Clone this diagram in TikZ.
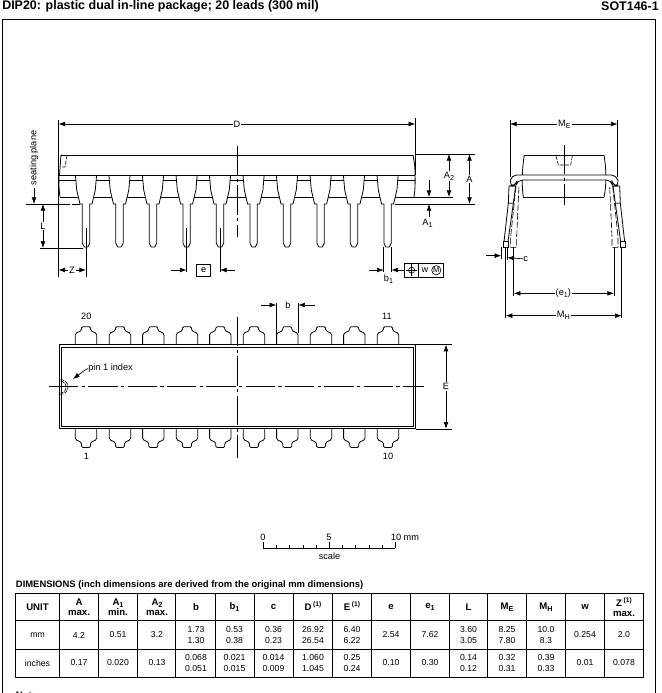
\documentclass[tikz,border=0pt]{standalone}
\usepackage{fontspec}
\setmainfont{Liberation Sans}
\usetikzlibrary{arrows.meta}
\def\sbs#1{\raisebox{-.4ex}{\fontsize{5.4}{5}\selectfont #1}}
\def\sps#1{\raisebox{.7ex}{\fontsize{5}{5}\selectfont #1}}
\tikzset{
  ln/.style={line width=.6pt,line join=round},
  thin ln/.style={line width=.45pt},
  centre/.style={line width=.5pt,dash pattern=on 22pt off 2.5pt on 2.5pt off 2.5pt},
  arw/.style={line width=.5pt,-{Latex[length=5pt,width=3.6pt]}},
  lab/.style={font=\fontsize{6.9}{7.5}\selectfont,inner sep=.6pt,fill=white},
  plain/.style={font=\fontsize{6.9}{7.5}\selectfont,inner sep=0pt},
  cell/.style={font=\fontsize{6.5}{8.25}\selectfont,align=center,inner sep=0pt},
  head/.style={font=\fontsize{7.2}{7.6}\bfseries\selectfont,align=center,inner sep=0pt},
  ttl/.style={font=\fontsize{9.35}{10}\bfseries\selectfont,inner sep=0pt},
  sub/.style={font=\fontsize{7.07}{8}\bfseries\selectfont,inner sep=0pt},
}
\begin{document}
\begin{tikzpicture}[x=.75pt,y=-.75pt]
\useasboundingbox (0,0) rectangle (661,693);
\clip (0,0) rectangle (661,693);
% titles
\node[ttl,anchor=west] (title) at (2,6.5) {DIP20: plastic dual in-line package; 20 leads (300 mil)};
\node[ttl,anchor=east] (sot) at (659,6.5) {SOT146-1};
% frame
\draw[ln] (2.7,700) -- (2.7,19.5) -- (655,19.5) -- (655,700);

% ---------- side view ----------
\draw[ln] (61,155) -- (413,155);
\draw[ln] (61,155) -- (59.5,175);
\draw[ln] (413,155) to[bend left=6] (415,175);
\draw[ln] (59,180) -- (415,180);
\draw[ln] (60,197) -- (414,197);
\draw[ln] (59,175) to[bend right=5] (60,197);
\draw[ln] (415,175) to[bend left=5] (414,197);
\draw[thin ln,dash pattern=on 3pt off 1pt] (61,155) -- (67,156) -- (65,167) -- (61,167);
\foreach \cx in {86,119.5,153,186.6,220,253.6,287,320.6,354,387.6}{
  \begin{scope}[shift={(\cx,0)}]
    \draw[ln,fill=white] (-10.6,175) -- (-9.3,190) -- (-6,204) -- (-3.7,204) -- (-3.7,243) -- (-1.7,247) -- (1.7,247) -- (3.7,243) -- (3.7,204) -- (6,204) -- (9.3,190) -- (10.6,175);
  \end{scope}
}
\draw[ln] (59,175) -- (415,175);
\draw[centre] (237.3,146) -- (237.3,237);
\draw[centre] (86,228) -- (86,250);
\draw[thin ln] (86,247) -- (86,277);
\draw[centre] (186.6,228) -- (186.6,250);
\draw[thin ln] (186.6,247) -- (186.6,272);
\draw[centre] (220,228) -- (220,250);
\draw[thin ln] (220,247) -- (220,272);
% ext lines
\draw[thin ln] (58.3,120) -- (58.3,277);
\draw[thin ln] (415.5,118) -- (415.5,175);
% D
\node[lab] (D) at (237,124) {D};
\draw[arw] (D) -- (58.5,124);
\draw[arw] (D) -- (415.3,124);
% seating plane
\node[plain,rotate=90] (seat) at (34,158) {seating plane};
\draw[arw] (34,188) -- (34,204);
\draw[thin ln] (26,204) -- (70,204);
\draw[thin ln] (72,204) -- (80,204);
\draw[thin ln] (40,248) -- (83,248);
% L
\node[lab] (L) at (43,226) {L};
\draw[arw] (L) -- (43,204);
\draw[arw] (L) -- (43,248);
% Z
\node[lab] (Z) at (72,270) {Z};
\draw[arw] (Z) -- (58.4,270);
\draw[arw] (Z) -- (86,270);
% e
\node[draw,ln,minimum width=10.4pt,minimum height=9pt,inner sep=0pt,font=\fontsize{6.9}{7.5}\selectfont] (e) at (203.7,270) {e};
\draw[arw] (171,270) -- (186.6,270);
\draw[arw] (235,270) -- (220,270);
% A dims
\draw[thin ln] (415,154) -- (475,154);
\draw[thin ln] (414,197) -- (453,197);
\draw[thin ln] (395,204) -- (475,204);
\node[lab] (A2) at (449,176) {A\sbs{2}};
\draw[arw] (A2) -- (449,154);
\draw[arw] (A2) -- (449,197);
\node[lab] (A) at (469.5,179) {A};
\draw[arw] (A) -- (469.5,154);
\draw[arw] (A) -- (469.5,204);
\draw[arw] (429,180) -- (429,197);
\draw[arw] (429,217) -- (429,204);
\node[plain] (A1) at (427.5,223.5) {A\sbs{1}};
% b1
\draw[thin ln] (383.7,247) -- (383.7,272);
\draw[thin ln] (391.4,247) -- (391.4,272);
\draw[arw] (369,270) -- (383.7,270);
\draw[arw] (405,270) -- (391.4,270);
\node[plain] (b1) at (388.5,279) {b\sbs{1}};
% tolerance box
\draw[ln] (404.6,263.5) rectangle (443.6,277);
\draw[ln] (418.6,263.5) -- (418.6,277);
\draw[thin ln] (411.6,270.2) circle (3);
\draw[thin ln] (405.8,270.2) -- (417.4,270.2) (411.6,264.4) -- (411.6,276);
\node[plain] (w) at (425,270) {w};
\draw[thin ln] (436.3,270.2) circle (4.6);
\node[plain,font=\fontsize{5.6}{6}\selectfont] (M) at (436.3,270.2) {M};

% ---------- end view ----------
\begin{scope}[shift={(480,110)},x=.25pt,y=-.25pt]
  \draw[ln] (133,135) -- (372,135);
  \draw[ln] (130,262) -- (372,262);
  \draw[ln] (133,135) .. controls (127,170) and (124,220) .. (130,262);
  \draw[ln] (372,135) .. controls (378,170) and (381,220) .. (372,262);
  \draw[thin ln,dash pattern=on 3pt off 1pt] (228,138) -- (235,165) -- (272,165) -- (277,138);
  \draw[ln,rounded corners=4pt,fill=white] (88,228) -- (94,195) -- (410,195) -- (418,228) -- (398,228) -- (395,210) -- (112,210) -- (107,228) -- cycle;
  \draw[centre] (253,105) -- (253,285);
  \foreach \mx/\sx in {0/1,506/-1}{
    \begin{scope}[shift={(\mx,0)},xscale=\sx]
      \draw[ln] (87,228) -- (107,228) -- (100,280) -- (85,280) -- cycle;
      \draw[ln] (85,280) -- (72,395) (100,280) -- (84,395);
      \draw[ln] (70,395) rectangle (84,412);
      \draw[thin ln,dash pattern=on 5pt off 1.5pt] (108,228) -- (92,380) -- (92,412) -- (110,412) -- (110,380) -- (117,228);
    \end{scope}
  }
  % M_E
  \draw[thin ln] (90,30) -- (90,200);
  \draw[thin ln] (413,30) -- (413,200);
  \node[lab] (ME) at (253,42) {M\sbs{E}};
  \draw[arw] (ME) -- (90,42);
  \draw[arw] (ME) -- (413,42);
  % e1
  \draw[thin ln] (101,412) -- (101,558);
  \draw[thin ln] (402,412) -- (402,558);
  \node[lab] (E1) at (250,550) {(e\sbs{1})};
  \draw[arw] (E1) -- (101,550);
  \draw[arw] (E1) -- (402,550);
  % M_H
  \draw[thin ln] (77,412) -- (77,624);
  \draw[thin ln] (425,412) -- (425,624);
  \node[lab] (MH) at (250,617) {M\sbs{H}};
  \draw[arw] (MH) -- (77,617);
  \draw[arw] (MH) -- (425,617);
  % c
  \draw[thin ln] (64,412) -- (64,446);
  \draw[thin ln] (82,412) -- (82,450);
  \draw[arw] (18,437) -- (64,437);
  \node[plain] (c) at (137,447) {c};
  \draw[arw] (c) -- (82,443);
\end{scope}

% ---------- top view ----------
\foreach \cx in {86,120,153.3,187,220.3,254,287.3,321,354.3,388}{
  \begin{scope}[shift={(\cx,0)}]
    \draw[ln,rounded corners=1pt] (-10.7,345) -- (-10.7,333.5) -- (-4.5,330.5) -- (-4.5,326.7) -- (4.5,326.7) -- (4.5,330.5) -- (10.7,333.5) -- (10.7,345);
    \draw[ln,rounded corners=1pt] (-10.7,428) -- (-10.7,439.5) -- (-4.5,442.5) -- (-4.5,447.5) -- (4.5,447.5) -- (4.5,442.5) -- (10.7,439.5) -- (10.7,428);
  \end{scope}
}
\draw[ln,line width=.7pt] (59.5,344.5) rectangle (415.5,428.5);
\draw[ln] (61.7,347) rectangle (413.5,426);
\draw[centre] (49,386.4) -- (424,386.4);
\draw[centre] (237.3,317) -- (237.3,458);
\draw[thin ln,dash pattern=on 3pt off .8pt] (60.5,379.5) .. controls (65,380) and (68,383) .. (68,387) .. controls (68,391) and (65,394) .. (60.5,394.5);
\draw[thin ln,dash pattern=on 3pt off .8pt] (60.5,381) .. controls (64,381.5) and (66.5,384) .. (66.5,387) .. controls (66.5,390) and (64,392.5) .. (60.5,393);
\node[plain,anchor=west] (pin1) at (88,368.5) {pin 1 index};
\draw[arw] (pin1.west) -- (85,370) -- (73,379);
\node[plain] (n20) at (86.3,316.7) {20};
\node[plain] (n1) at (86.5,456) {1};
\node[plain] (n11) at (387,316.7) {11};
\node[plain] (n10) at (388,456.7) {10};
% b
\draw[thin ln] (276.3,303) -- (276.3,345);
\draw[thin ln] (298.3,303) -- (298.3,333);
\draw[arw] (261,305) -- (276.3,305);
\draw[arw] (315,305) -- (298.3,305);
\node[plain] (b) at (288,305) {b};
% E
\draw[thin ln] (415.5,344.5) -- (452,344.5);
\draw[thin ln] (415.5,429) -- (452,429);
\node[lab] (E) at (446,386.5) {E};
\draw[arw] (E) -- (446,344.7);
\draw[arw] (E) -- (446,428.8);

% ---------- scale ----------
\draw[ln] (263.3,548.3) -- (395.3,548.3);
\foreach \i in {0,1,...,10}{
  \draw[thin ln] (263.3+13.2*\i,548.3) -- (263.3+13.2*\i,545);
}
\draw[ln] (263.3,548.3) -- (263.3,542);
\draw[ln] (329.3,548.3) -- (329.3,542);
\draw[ln] (395.3,548.3) -- (395.3,542);
\node[plain] (s0) at (263,537) {0};
\node[plain] (s5) at (329,537) {5};
\node[plain] (s10) at (405,537) {10 mm};
\node[plain] (sc) at (329.5,556) {scale};

% ---------- table ----------
\node[sub,anchor=west] (dim) at (15.7,585) {DIMENSIONS (inch dimensions are derived from the original mm dimensions)};
\draw[ln] (15.7,593.3) rectangle (643.3,677.3);
\draw[ln] (15.7,620.7) -- (643.3,620.7) (15.7,649) -- (643.3,649);
\foreach \x in {59.3,98.3,137.3,175.7,215,254,293.3,332.7,371.7,410,449,487.7,526.7,565.7,604.3}{
  \draw[ln] (\x,593.3) -- (\x,677.3);
}
% header
\node[head] (h1) at (37.5,607) {UNIT};
\node[head] (h2) at (79,607) {A\\max.};
\node[head] (h3) at (118,607) {A\sbs{1}\\min.};
\node[head] (h4) at (157,607) {A\sbs{2}\\max.};
\node[head] (h5) at (196,607) {b};
\node[head] (h6) at (234.5,607) {b\sbs{1}};
\node[head] (h7) at (273.5,607) {c};
\node[head] (h8) at (313,606) {D\,\sps{(1)}};
\node[head] (h9) at (352,606) {E\,\sps{(1)}};
\node[head] (h10) at (391,607) {e};
\node[head] (h11) at (430,607) {e\sbs{1}};
\node[head] (h12) at (468.5,607) {L};
\node[head] (h13) at (507,607) {M\sbs{E}};
\node[head] (h14) at (546,607) {M\sbs{H}};
\node[head] (h15) at (585,607) {w};
\node[head] (h16) at (624,607) {Z\,\sps{(1)}\\max.};
% mm
\node[cell] (a1) at (37.5,635) {mm};
\node[cell] (a2) at (79,635) {4.2};
\node[cell] (a3) at (118,635) {0.51};
\node[cell] (a4) at (157,635) {3.2};
\node[cell] (a5) at (196,635) {1.73\\1.30};
\node[cell] (a6) at (234.5,635) {0.53\\0.38};
\node[cell] (a7) at (273.5,635) {0.36\\0.23};
\node[cell] (a8) at (313,635) {26.92\\26.54};
\node[cell] (a9) at (352,635) {6.40\\6.22};
\node[cell] (a10) at (391,635) {2.54};
\node[cell] (a11) at (430,635) {7.62};
\node[cell] (a12) at (468.5,635) {3.60\\3.05};
\node[cell] (a13) at (507,635) {8.25\\7.80};
\node[cell] (a14) at (546,635) {10.0\\8.3};
\node[cell] (a15) at (585,635) {0.254};
\node[cell] (a16) at (624,635) {2.0};
% inches
\node[cell] (b1x) at (37.5,663) {inches};
\node[cell] (b2) at (79,663) {0.17};
\node[cell] (b3) at (118,663) {0.020};
\node[cell] (b4) at (157,663) {0.13};
\node[cell] (b5) at (196,663) {0.068\\0.051};
\node[cell] (b6) at (234.5,663) {0.021\\0.015};
\node[cell] (b7) at (273.5,663) {0.014\\0.009};
\node[cell] (b8) at (313,663) {1.060\\1.045};
\node[cell] (b9) at (352,663) {0.25\\0.24};
\node[cell] (b10) at (391,663) {0.10};
\node[cell] (b11) at (430,663) {0.30};
\node[cell] (b12) at (468.5,663) {0.14\\0.12};
\node[cell] (b13) at (507,663) {0.32\\0.31};
\node[cell] (b14) at (546,663) {0.39\\0.33};
\node[cell] (b15) at (585,663) {0.01};
\node[cell] (b16) at (624,663) {0.078};
\node[sub,anchor=west] (note) at (15.7,695) {Note};
\end{tikzpicture}
\end{document}
